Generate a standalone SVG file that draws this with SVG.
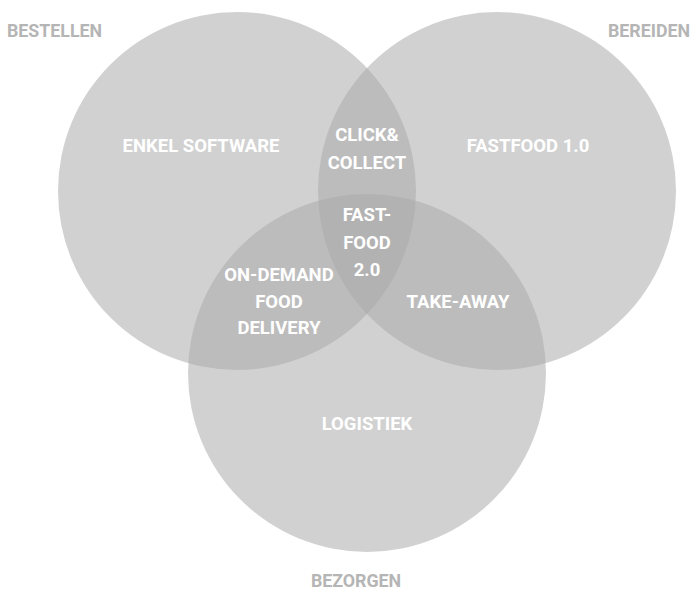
<svg xmlns="http://www.w3.org/2000/svg" width="694" height="592" viewBox="0 0 694 592">
<style>
.c{fill:#aaaaaa;fill-opacity:0.54}
.o{font-family:Roboto,"Liberation Sans",sans-serif;font-weight:bold;font-size:17.8px;fill:#b5b5b5}
.i{font-family:Roboto,"Liberation Sans",sans-serif;font-weight:bold;font-size:18.5px;fill:#ffffff;text-anchor:middle}
</style>
<rect width="694" height="592" fill="#ffffff"/>
<g id="bestellen"><circle class="c" cx="237" cy="191" r="179"/></g>
<g id="bereiden"><circle class="c" cx="497" cy="191" r="179"/></g>
<g id="bezorgen"><circle class="c" cx="367" cy="373" r="179"/></g>
<g id="labels">
<text class="o" x="7" y="37">BESTELLEN</text>
<text class="o" x="690" y="37" text-anchor="end">BEREIDEN</text>
<text class="o" x="356" y="587" text-anchor="middle">BEZORGEN</text>
<text class="i" x="201" y="152">ENKEL SOFTWARE</text>
<text class="i" x="528" y="152">FASTFOOD 1.0</text>
<text class="i" x="367" y="141">CLICK&amp;</text>
<text class="i" x="367" y="169">COLLECT</text>
<text class="i" x="367" y="221">FAST-</text>
<text class="i" x="367" y="249">FOOD</text>
<text class="i" x="367" y="276">2.0</text>
<text class="i" x="279" y="281">ON-DEMAND</text>
<text class="i" x="279" y="308">FOOD</text>
<text class="i" x="279" y="334">DELIVERY</text>
<text class="i" x="458" y="308">TAKE-AWAY</text>
<text class="i" x="367" y="430">LOGISTIEK</text>
</g>
</svg>
